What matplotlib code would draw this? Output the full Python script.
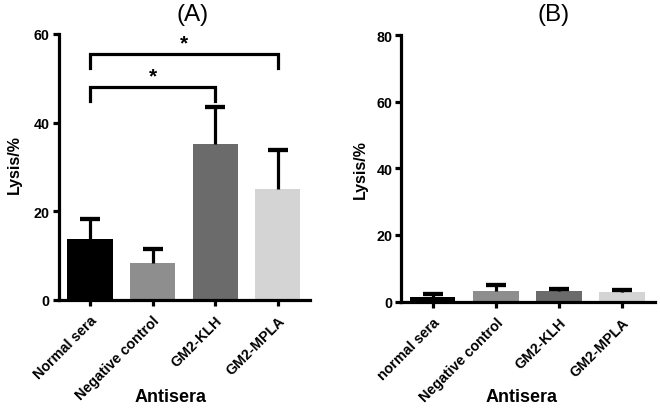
import matplotlib
matplotlib.use("Agg")
import matplotlib.pyplot as plt
import matplotlib.transforms as mtransforms
import numpy as np

plt.rcParams['font.family'] = ['Liberation Sans', 'DejaVu Sans']

cats_a = ["Normal sera", "Negative control", "GM2-KLH", "GM2-MPLA"]
vals_a = [13.8, 8.3, 35.1, 25.0]
err_a = [4.5, 3.2, 8.4, 8.7]

cats_b = ["normal sera", "Negative control", "GM2-KLH", "GM2-MPLA"]
vals_b = [1.5, 3.2, 3.3, 2.8]
err_b = [0.8, 1.8, 0.5, 0.8]

colors = ["#000000", "#8e8e8e", "#6b6b6b", "#d4d4d4"]

# significance brackets (panel A): (i, j, y_top, y_drop)
brackets = [(0, 2, 48.0, 44.8), (0, 3, 55.5, 52.3)]

fig = plt.figure(figsize=(6.6, 4.1), dpi=100)
axA = fig.add_axes([0.089, 0.266, 0.381, 0.649])
axB = fig.add_axes([0.608, 0.262, 0.384, 0.650])

LW = 2.3
CAP = 0.16

def style(ax, cats, vals, errs, ymax, step):
    x = np.arange(len(cats))
    vals = np.asarray(vals)
    errs = np.asarray(errs)
    ax.bar(x, vals, width=0.72, color=colors, zorder=2)
    ax.vlines(x, vals, vals + errs, color='black', lw=LW, zorder=3)
    ax.hlines(vals + errs, x - CAP, x + CAP, color='black', lw=LW + 0.8, zorder=3)
    ax.set_xlim(-0.5, 3.52)
    ax.set_ylim(0, ymax)
    ax.set_yticks(np.arange(0, ymax + 1, step))
    ax.set_xticks(x)
    ax.set_xticklabels(cats, rotation=45, ha='right', va='top', rotation_mode='anchor',
                       fontsize=10.3, fontweight='bold')
    off = mtransforms.ScaledTranslation(-7 / 100, -1 / 100, fig.dpi_scale_trans)
    for lab in ax.get_xticklabels():
        lab.set_transform(lab.get_transform() + off)
    for lab in ax.get_yticklabels():
        lab.set_fontweight('bold')
        lab.set_fontsize(10.3)
    for s in ['top', 'right']:
        ax.spines[s].set_visible(False)
    for s in ['left', 'bottom']:
        ax.spines[s].set_linewidth(LW)
    ax.tick_params(axis='both', width=LW, length=4.5, direction='out', pad=2)
    ax.tick_params(axis='x', pad=5)

style(axA, cats_a, vals_a, err_a, 60, 20)
style(axB, cats_b, vals_b, err_b, 80, 20)

fig.text(14 / 660, 1 - 165 / 410, "Lysis/%", rotation=90, ha='center', va='center',
         fontsize=11.5, fontweight='bold')
fig.text(360 / 660, 1 - 170 / 410, "Lysis/%", rotation=90, ha='center', va='center',
         fontsize=11.5, fontweight='bold')
fig.text(171 / 660, 1 - 398 / 410, "Antisera", ha='center', va='center',
         fontsize=13, fontweight='bold')
fig.text(522 / 660, 1 - 398 / 410, "Antisera", ha='center', va='center',
         fontsize=13, fontweight='bold')
fig.text(193 / 660, 1 - 15 / 410, "(A)", ha='center', va='center', fontsize=17.5)
fig.text(554 / 660, 1 - 15 / 410, "(B)", ha='center', va='center', fontsize=17.5)

for (i, j, yt, yd) in brackets:
    axA.plot([i, i, j, j], [yd, yt, yt, yd], color='black', lw=LW, clip_on=False,
             solid_joinstyle='miter', zorder=4)
    axA.text((i + j) / 2, yt + 0.3, "*", ha='center', va='bottom', fontsize=15,
             fontweight='bold')

fig.savefig("out.png", dpi=100)
